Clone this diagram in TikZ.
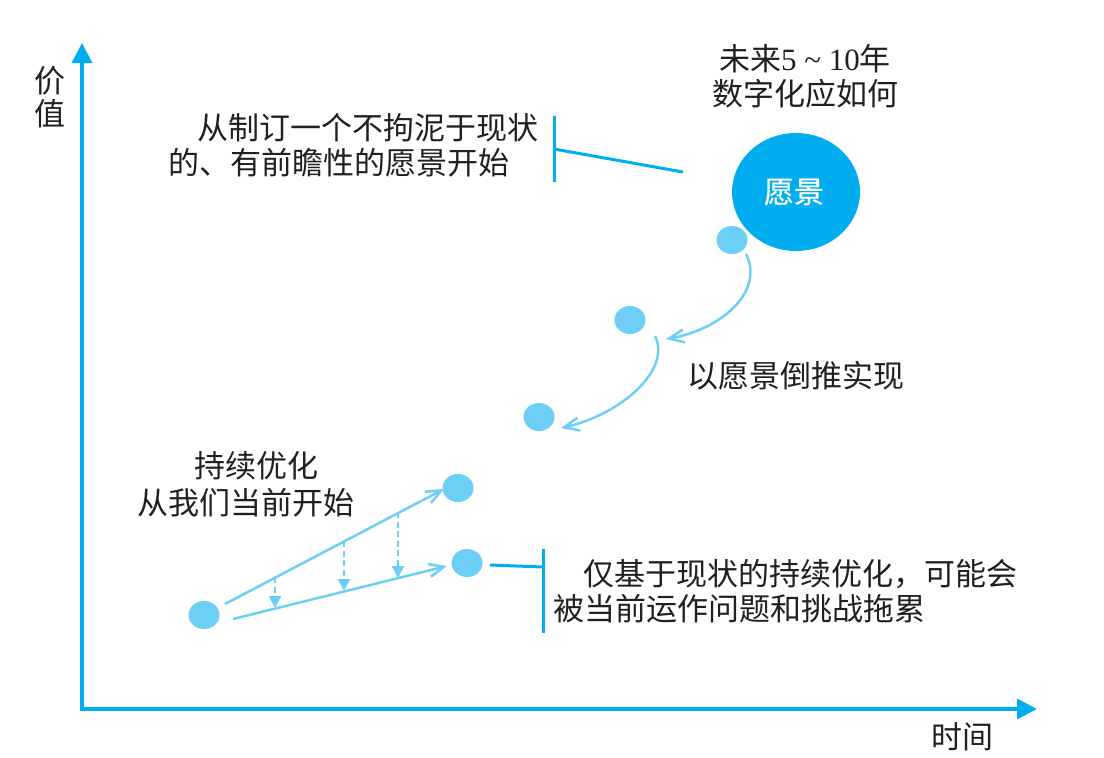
\documentclass[tikz,border=0pt]{standalone}
\usepackage{fontspec}
\newfontfamily\cjk{Noto Sans CJK SC}
\newfontfamily\cjkbold[FakeBold=0.6]{Noto Sans CJK SC}
\newfontfamily\lserif{Liberation Serif}
\usetikzlibrary{arrows.meta,shapes.geometric}
\definecolor{axiscyan}{HTML}{00AEEF}
\definecolor{lightcyan}{HTML}{6DCFF6}
\definecolor{txt}{HTML}{231F20}
\begin{document}
\begin{tikzpicture}[x=1pt,y=-1pt,
  lbl/.style={font=\cjk\fontsize{31}{35}\selectfont, text=txt, inner sep=0pt},
  dot/.style={ellipse, fill=lightcyan, minimum width=31pt, minimum height=28pt, inner sep=0pt},
  axisline/.style={draw=axiscyan, line width=3.5pt, line join=miter, {Triangle[length=20pt,width=20pt]}-{Triangle[length=20pt,width=20pt]}},
  bracket/.style={draw=axiscyan, line width=3pt},
  flow/.style={draw=lightcyan, line width=2.5pt, -{Straight Barb[length=15pt,width=13pt]}},
  drop/.style={draw=lightcyan, line width=2.2pt, dash pattern=on 6pt off 3.5pt, -{Triangle[length=12pt,width=12pt]}},
]
\useasboundingbox (0,0) rectangle (1104,758);
% axes
\coordinate (O) at (82,709);
\coordinate (Ytop) at (82,43);
\coordinate (Xend) at (1037,709);
\draw[axisline] (Ytop) -- (O) -- (Xend);
\node[lbl, align=center, font=\cjk\fontsize{31}{33}\selectfont] (yl) at (50,97) {价\\值};
\node[lbl] (xl) at (962,737) {时间};
% vision
\node[ellipse, fill=axiscyan, minimum width=128pt, minimum height=118pt, inner sep=0pt] (vis) at (796,192) {};
\node[font=\cjkbold\fontsize{30}{30}\selectfont, text=white, inner sep=0pt] (vist) at (794,192) {愿景};
\node[lbl, align=center] (fut) at (805,76) {未来{\lserif 5 \textasciitilde{} 10}年\\数字化应如何};
% left top text with bracket
\node[lbl, align=left, anchor=west] (lt) at (168,145.5) {\hspace*{29pt}从制订一个不拘泥于现状\\的、有前瞻性的愿景开始};
\coordinate (b1t) at (554,116);
\coordinate (b1b) at (554,182);
\coordinate (b1m) at (554,149);
\coordinate (b1e) at (683,172);
\draw[bracket] (b1t) -- (b1b);
\draw[bracket] (b1m) -- (b1e);
% dots
\node[dot] (c1) at (732,240) {};
\node[dot] (c2) at (630,320) {};
\node[dot] (c3) at (539,417) {};
\node[dot] (s0) at (204,615) {};
\node[dot] (up) at (458,488) {};
\node[dot] (lo) at (467,563) {};
% back-casting curves
\coordinate (a1s) at (746,254);
\coordinate (a1e) at (666,339);
\draw[flow] (a1s) .. controls (765,292) and (720,330) .. (a1e);
\coordinate (a2s) at (655,336);
\coordinate (a2e) at (561,428);
\draw[flow] (a2s) .. controls (672,370) and (620,415) .. (a2e);
\node[lbl] (back) at (796,376) {以愿景倒推实现};
% continuous optimisation
\node[lbl] (opt1) at (256,466) {持续优化};
\node[lbl] (opt2) at (246,503) {从我们当前开始};
\coordinate (u0) at (225,604);
\coordinate (u1) at (444,489);
\coordinate (l0) at (233,619);
\coordinate (l1) at (447,566);
\draw[flow] (u0) -- (u1);
\draw[flow] (l0) -- (l1);
\coordinate (d1a) at (275,577);
\coordinate (d1b) at (275,608);
\coordinate (d2a) at (344,541);
\coordinate (d2b) at (344,591);
\coordinate (d3a) at (398,512);
\coordinate (d3b) at (398,578);
\draw[drop] (d1a) -- (d1b);
\draw[drop] (d2a) -- (d2b);
\draw[drop] (d3a) -- (d3b);
% bottom bracket and text
\coordinate (b2t) at (543,549);
\coordinate (b2b) at (543,633);
\coordinate (b2s) at (490,565);
\coordinate (b2m) at (543,567);
\draw[bracket] (b2t) -- (b2b);
\draw[bracket] (b2s) -- (b2m);
\node[lbl, align=left, anchor=west] (bt) at (553,591.5) {\hspace*{30pt}仅基于现状的持续优化，可能会\\被当前运作问题和挑战拖累};
\end{tikzpicture}
\end{document}
